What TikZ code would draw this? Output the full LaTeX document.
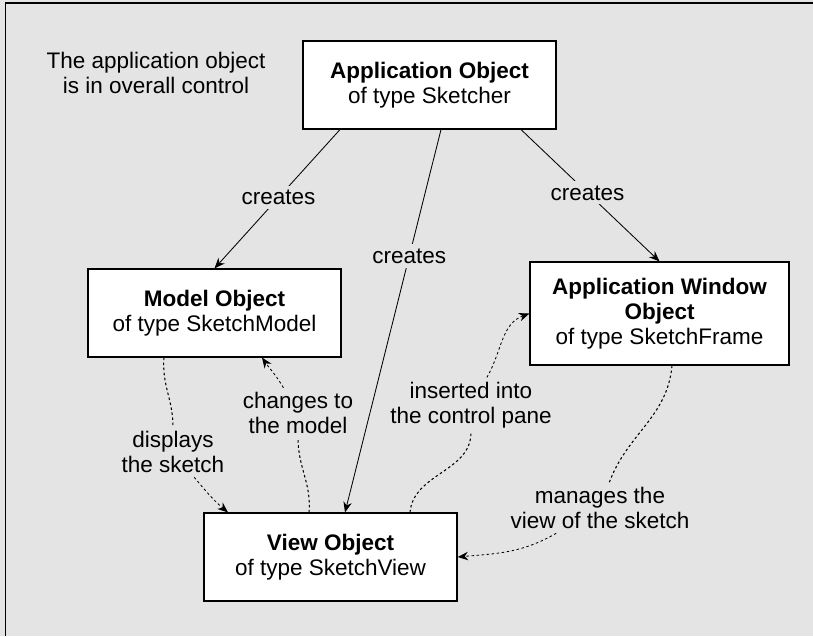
\documentclass[tikz,border=0pt]{standalone}
\usepackage{fontspec}
\setmainfont{Liberation Sans}
\usetikzlibrary{arrows.meta, positioning}
\definecolor{panel}{HTML}{E4E4E4}

\begin{document}
\begin{tikzpicture}[
  x=0.025cm, y=0.025cm,
  font=\fontsize{16}{17.8}\selectfont,
  obj/.style={rectangle, draw=black, line width=0.8pt, fill=white, align=center, minimum width=6.325cm, minimum height=2.2cm, inner sep=2pt},
  lbl/.style={fill=panel, align=center, inner sep=3pt},
  arrow/.style={line width=0.6pt, -{Stealth[length=7.5pt, width=6pt]}},
  dots/.style={line width=0.75pt, dash pattern=on 1.8pt off 1.8pt}
]

\useasboundingbox (0,0) rectangle (813,636);
\fill[panel] (0,0) rectangle (813,636);
\draw[line width=1pt] (5.5,0) -- (5.5,633) -- (813,633);

\node[align=center] (note) at (156,563.5) {The application object\\is in overall control};

\node[obj] (app) at (429.5,551) {\textbf{Application Object}\\of type Sketcher};
\node[obj] (model) at (214.5,323) {\textbf{Model Object}\\of type SketchModel};
\node[obj, minimum width=6.475cm, minimum height=2.575cm] (win) at (659.5,322.5) {\textbf{Application Window}\\\textbf{Object}\\of type SketchFrame};
\node[obj] (view) at (330.5,79) {\textbf{View Object}\\of type SketchView};

% labels of the dotted links
\node[lbl] (disp) at (173,184) {displays\\the sketch};
\node[lbl] (chg) at (298,223) {changes to\\the model};
\node[lbl] (ins) at (471,231) {inserted into\\the control pane};
\node[lbl] (mng) at (600,128) {manages the\\view of the sketch};

% creation links
\draw[arrow] ([shift={(-89.5,0)}]app.south) -- node[lbl, pos=0.49] {creates} (model.north);
\draw[arrow] ([shift={(11.5,0)}]app.south) -- node[lbl, pos=0.33] {creates} ([shift={(14.5,0)}]view.north);
\draw[arrow] ([shift={(91.5,0)}]app.south) -- node[lbl, pos=0.48] {creates} (win.north);

% dotted links
\draw[dots] ([shift={(-50.5,0)}]model.south) to[out=-95, in=90] (disp);
\draw[dots, arrow] (disp) to[out=-50, in=140] ([shift={(-102.5,0)}]view.north);
\draw[dots] ([shift={(-21.5,0)}]view.north) to[out=85, in=-90] (chg);
\draw[dots, arrow] (chg) to[out=120, in=-55] ([shift={(47.5,0)}]model.south);
\draw[dots] ([shift={(79.5,0)}]view.north) to[out=85, in=-90] (ins);
\draw[dots, arrow] (ins) to[out=60, in=200] (win.west);
\draw[dots] ([shift={(12.5,0)}]win.south) to[out=-95, in=70] (mng);
\draw[dots, arrow] (mng) to[out=-150, in=5] (view.east);

\end{tikzpicture}
\end{document}
